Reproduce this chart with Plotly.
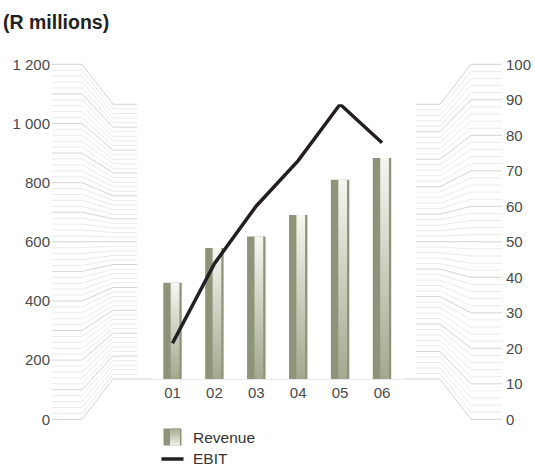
import plotly.graph_objects as go

# ---- data -------------------------------------------------------------
years = ["01", "02", "03", "04", "05", "06"]
revenue = [420, 572, 622, 716, 870, 965]        # R millions
ebit = [13, 42, 63, 79.5, 100, 86]               # R millions

revenue_ticks = [0, 200, 400, 600, 800, 1000, 1200]
ebit_ticks = [0, 10, 20, 30, 40, 50, 60, 70, 80, 90, 100]
REV_MAX, EBIT_MAX = 1200, 100

# ---- geometry (pixels) ------------------------------------------------
W, H = 535, 468
OUTER_ZERO, OUTER_TOP = 419.3, 64.3     # outer tick scale
INNER_ZERO, INNER_TOP = 379.0, 104.3    # compressed plot scale
LEFT_X = [52, 82, 113, 137]
RIGHT_X = [416, 440, 471, 502]
CAT0, CAT_STEP = 172.5, 41.9

OLIVE = "#8e9479"
GRID_MINOR = "#ebebeb"
GRID_MAJOR = "#d4d4d4"
TXT = "#4a4a4a"
FONT = "Liberation Sans, Arial, sans-serif"

k_rev = (OUTER_ZERO - OUTER_TOP) / REV_MAX
k_ebit = (OUTER_ZERO - OUTER_TOP) / EBIT_MAX


def inner_px(frac):
    return INNER_ZERO - frac * (INNER_ZERO - INNER_TOP)


def fmt(v):
    return f"{v:,}".replace(",", " ")


fig = go.Figure()

# ---- funnel grid, left (revenue) and right (EBIT) ---------------------
def left_lines(values):
    xs, ys = [], []
    for v in values:
        vin = (OUTER_ZERO - inner_px(v / REV_MAX)) / k_rev
        xs += LEFT_X + [None]
        ys += [v, v, vin, vin, None]
    return xs, ys


def right_lines(values):
    xs, ys = [], []
    for v in values:
        vin = (OUTER_ZERO - inner_px(v / EBIT_MAX)) / k_ebit
        xs += RIGHT_X + [None]
        ys += [vin, vin, v, v, None]
    return xs, ys


rev_grid = list(range(0, REV_MAX + 1, 20))
ebit_grid = list(range(0, EBIT_MAX + 1, 2))

for vals, col in [([v for v in rev_grid if v % 100], GRID_MINOR),
                  ([v for v in rev_grid if v % 100 == 0], GRID_MAJOR)]:
    xs, ys = left_lines(vals)
    fig.add_trace(go.Scatter(x=xs, y=ys, mode="lines", xaxis="x", yaxis="y",
                             line=dict(color=col, width=1), hoverinfo="skip",
                             showlegend=False))

for vals, col in [([v for v in ebit_grid if v % 10], GRID_MINOR),
                  ([v for v in ebit_grid if v % 10 == 0], GRID_MAJOR)]:
    xs, ys = right_lines(vals)
    fig.add_trace(go.Scatter(x=xs, y=ys, mode="lines", xaxis="x", yaxis="y2",
                             line=dict(color=col, width=1), hoverinfo="skip",
                             showlegend=False))

# baseline joining the two funnels
base_v = (OUTER_ZERO - inner_px(0)) / k_rev
fig.add_trace(go.Scatter(x=[LEFT_X[-1], RIGHT_X[0]], y=[base_v, base_v],
                         mode="lines", xaxis="x", yaxis="y",
                         line=dict(color=GRID_MAJOR, width=1),
                         hoverinfo="skip", showlegend=False))

# ---- revenue bars ----------------------------------------------------
BAR_W = 0.44
xs_cat = list(range(len(years)))
fig.add_trace(go.Bar(x=xs_cat, y=revenue, width=BAR_W, xaxis="x2", yaxis="y3",
                     marker=dict(color=OLIVE, line=dict(width=0)),
                     name="Revenue", showlegend=False))

# light sheen strip on each bar
for i, v in zip(xs_cat, revenue):
    x0, x1 = i - 0.043, i + 0.165
    fig.add_trace(go.Scatter(
        x=[x0, x1, x1, x0, x0], y=[0, 0, v, v, 0], mode="lines",
        xaxis="x2", yaxis="y3", fill="toself", line=dict(width=0),
        fillgradient=dict(type="vertical",
                          colorscale=[[0, "#a3a88e"], [1, "#f6f6f1"]]),
        hoverinfo="skip", showlegend=False))

# ---- EBIT line -------------------------------------------------------
fig.add_trace(go.Scatter(x=xs_cat, y=ebit, mode="lines", xaxis="x2", yaxis="y4",
                         line=dict(color="#231f20", width=3.5),
                         name="EBIT", showlegend=False))

# ---- legend ----------------------------------------------------------
SW_TOP, SW_BOT = 428.5, 445.5
fig.add_trace(go.Scatter(x=[163.5, 181.5, 181.5, 163.5, 163.5],
                         y=[SW_TOP, SW_TOP, SW_BOT, SW_BOT, SW_TOP], mode="lines",
                         xaxis="x", yaxis="y5", fill="toself",
                         fillcolor=OLIVE, line=dict(width=0),
                         hoverinfo="skip", showlegend=False))
fig.add_trace(go.Scatter(x=[170, 180, 180, 170, 170],
                         y=[SW_TOP, SW_TOP, SW_BOT, SW_BOT, SW_TOP], mode="lines",
                         xaxis="x", yaxis="y5", fill="toself",
                         line=dict(width=0),
                         fillgradient=dict(type="vertical",
                                           colorscale=[[0, "#f2f2ec"], [1, "#a3a88e"]]),
                         hoverinfo="skip", showlegend=False))
fig.add_trace(go.Scatter(x=[161.5, 183.5], y=[459, 459], mode="lines",
                         xaxis="x", yaxis="y5",
                         line=dict(color="#231f20", width=3.5),
                         hoverinfo="skip", showlegend=False))

annotations = [
    dict(text="Revenue", x=190.5, y=437, xref="x", yref="y5",
         xanchor="left", yanchor="middle", showarrow=False,
         font=dict(family=FONT, size=15.5, color="#333333")),
    dict(text="EBIT", x=190.5, y=458.5, xref="x", yref="y5",
         xanchor="left", yanchor="middle", showarrow=False,
         font=dict(family=FONT, size=15.5, color="#333333")),
    dict(text="(R millions)", x=1 / W, y=1 - 21.5 / H, xref="paper", yref="paper",
         xanchor="left", yanchor="middle", showarrow=False,
         font=dict(family=FONT, size=19.5, color="#222222", weight="bold")),
]

tickfont = dict(family=FONT, size=15, color=TXT)
hidden = dict(visible=False, fixedrange=True)

fig.update_layout(
    width=W, height=H, margin=dict(l=0, r=0, t=0, b=0),
    paper_bgcolor="white", plot_bgcolor="white",
    showlegend=False, annotations=annotations,
    xaxis=dict(domain=[0, 1], range=[0, W], **hidden),
    yaxis=dict(domain=[0, 1],
               range=[-(H - OUTER_ZERO) / k_rev, OUTER_ZERO / k_rev],
               anchor="free", position=LEFT_X[0] / W, side="left",
               tickvals=revenue_ticks, ticktext=[fmt(v) for v in revenue_ticks],
               showgrid=False, zeroline=False, showline=False, ticks="",
               ticklabelstandoff=2, tickfont=tickfont, fixedrange=True),
    yaxis2=dict(domain=[0, 1], overlaying="y",
                range=[-(H - OUTER_ZERO) / k_ebit, OUTER_ZERO / k_ebit],
                anchor="free", position=RIGHT_X[-1] / W, side="right",
                tickvals=ebit_ticks, ticktext=[str(v) for v in ebit_ticks],
                showgrid=False, zeroline=False, showline=False, ticks="",
                ticklabelstandoff=3, tickfont=tickfont, fixedrange=True),
    xaxis2=dict(domain=[(CAT0 - 0.5 * CAT_STEP) / W, (CAT0 + 5.5 * CAT_STEP) / W],
                range=[-0.5, 5.5], anchor="y3",
                tickvals=xs_cat, ticktext=years,
                showgrid=False, zeroline=False, showline=False, ticks="",
                ticklabelstandoff=3, tickfont=tickfont, fixedrange=True),
    yaxis3=dict(domain=[1 - INNER_ZERO / H, 1 - INNER_TOP / H],
                range=[0, REV_MAX], anchor="x2", **hidden),
    yaxis4=dict(domain=[1 - INNER_ZERO / H, 1 - INNER_TOP / H],
                range=[0, EBIT_MAX], anchor="x2", overlaying="y3", **hidden),
    yaxis5=dict(domain=[0, 1], range=[H, 0], anchor="x", overlaying="y", **hidden),
)

fig.write_html("out.html")
